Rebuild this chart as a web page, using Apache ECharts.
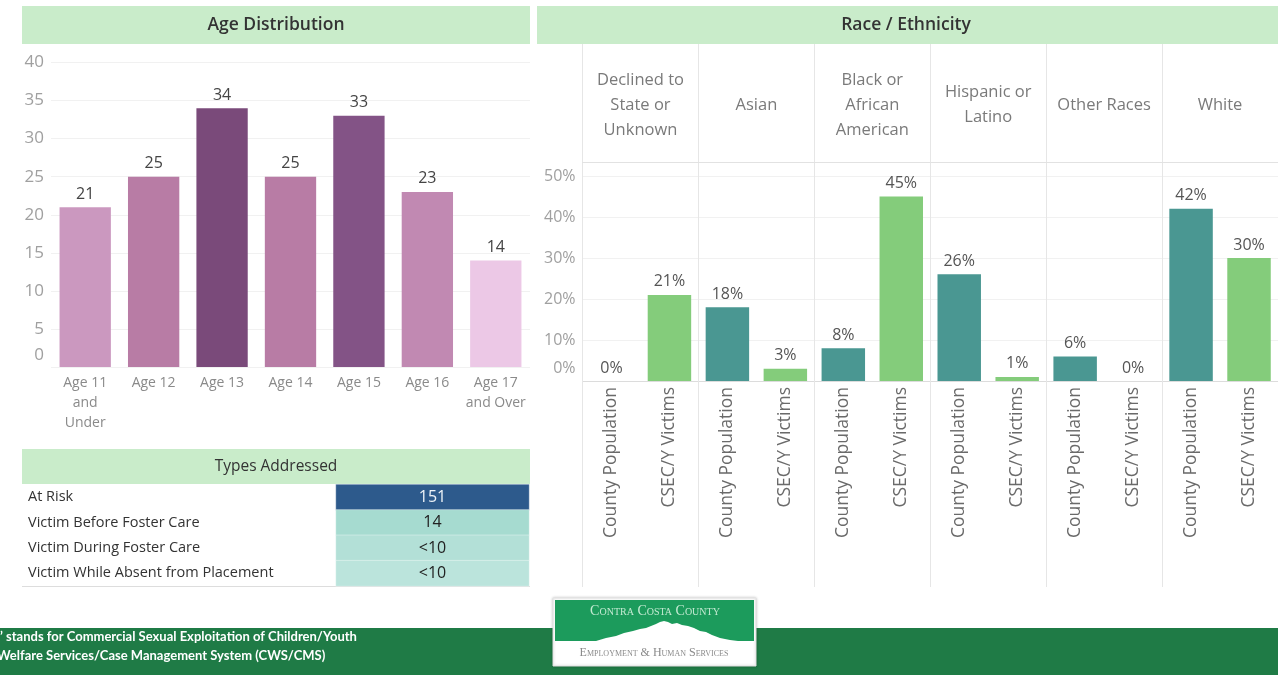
<!DOCTYPE html>
<html><head><meta charset="utf-8">
<script src="https://cdn.jsdelivr.net/npm/echarts@6/dist/echarts.min.js"></script>
<style>html,body{margin:0;padding:0;background:#fff;}#c{width:1278px;height:675px;}</style>
</head><body><div id="c"></div>
<script>
// ---------- data ----------
const ageCategories = ['Age 11\nand\nUnder', 'Age 12', 'Age 13', 'Age 14', 'Age 15', 'Age 16', 'Age 17\nand Over'];
const ageCounts = [21, 25, 34, 25, 33, 23, 14];
const ageTickValues = [0, 5, 10, 15, 20, 25, 30, 35, 40];

const raceGroups = ['Declined to\nState or\nUnknown', 'Asian', 'Black or\nAfrican\nAmerican', 'Hispanic or\nLatino', 'Other Races', 'White'];
const raceMeasures = ['County Population', 'CSEC/Y Victims'];
const countyPopulationPct = [0, 18, 8, 26, 6, 42];
const csecVictimsPct = [21, 3, 45, 1, 0, 30];
const raceTickValues = [0, 10, 20, 30, 40, 50];

const typeRows = ['At Risk', 'Victim Before Foster Care', 'Victim During Foster Care', 'Victim While Absent from Placement'];
const typeValues = ['151', '14', '<10', '<10'];

const footerLines = ['\u2019 stands for Commercial Sexual Exploitation of Children/Youth', 'Welfare Services/Case Management System (CWS/CMS)'];

// ---------- styles ----------
const FONT = '"Open Sans", "Noto Sans", sans-serif';
const AGE_COLORS = ['#cb98bf', '#b87ca5', '#7a4a7a', '#b87ca5', '#835386', '#c189b2', '#ecc8e6'];
const TEAL = '#4a9792', GREEN = '#84cc7b';
const TYPE_COLORS = ['#2d5a8c', '#a6dbd0', '#b3e0d7', '#bbe4dc'];
const TYPE_TEXT = ['#eef3f8', '#222', '#222', '#222'];
const HEADER_GREEN = '#c9ecca';
const FOOT_FONT = 'bold 13px Lato, "Open Sans", sans-serif';

// ---------- build ----------
const raceCats = [], raceData = [];
raceGroups.forEach((g, i) => {
  raceCats.push(raceMeasures[0] + '|' + i, raceMeasures[1] + '|' + i);
  raceData.push({ value: countyPopulationPct[i], itemStyle: { color: TEAL } },
                { value: csecVictimsPct[i], itemStyle: { color: GREEN } });
});
const ageData = ageCounts.map((v, i) => ({ value: v, itemStyle: { color: AGE_COLORS[i] } }));
const typeData = typeRows.map((r, i) => ({
  value: [0, i, i],
  itemStyle: { color: TYPE_COLORS[i] },
  label: { color: TYPE_TEXT[i] }
}));

// fit footer text to the width it takes in the original
const mctx = document.createElement('canvas').getContext('2d');
mctx.font = FOOT_FONT;
const footScale = Math.min(1, 363 / mctx.measureText(footerLines[0]).width);

// the zero label sits a little above the baseline, as in the original
const zeroLift = (suffix) => v => v === 0 ? '{z|0' + suffix + '}' : v + suffix;

const chart = echarts.init(document.getElementById('c'), null, { renderer: 'canvas' });
chart.setOption({
  animation: false,
  textStyle: { fontFamily: FONT },
  grid: [
    { left: 51, right: 748, top: 62.5, bottom: 308 },
    { left: 582.5, right: -4, top: 162, bottom: 294 },
    { left: 336, right: 749, top: 484.5, bottom: 89 }
  ],
  xAxis: [
    { type: 'category', gridIndex: 0, data: ageCategories,
      axisLine: { show: false }, axisTick: { show: false },
      axisLabel: { interval: 0, fontSize: 14, lineHeight: 20, color: '#8a8a8a', margin: 6, fontFamily: FONT } },
    { type: 'category', gridIndex: 1, data: raceCats, position: 'bottom',
      axisLine: { show: true, lineStyle: { color: '#dcdcdc' } }, axisTick: { show: false },
      axisLabel: { interval: 0, rotate: 90, margin: 6, fontSize: 17.5, color: '#6a6a6a', fontFamily: FONT,
        formatter: v => v.split('|')[0] } },
    { type: 'category', gridIndex: 1, data: raceGroups, position: 'top',
      axisLine: { show: true, lineStyle: { color: '#e2e2e2' } },
      axisTick: { show: true, length: 118, interval: 0, lineStyle: { color: '#e6e6e6' } },
      splitLine: { show: true, interval: 0, lineStyle: { color: '#e6e6e6' } },
      axisLabel: { interval: 0, margin: 57, verticalAlign: 'middle', fontSize: 16.5, lineHeight: 25, color: '#7a7a7a', fontFamily: FONT } },
    { type: 'category', gridIndex: 1, data: raceGroups, position: 'bottom',
      axisLine: { show: false }, axisLabel: { show: false },
      axisTick: { show: true, length: 206, interval: 0, lineStyle: { color: '#e6e6e6' } } },
    { type: 'category', gridIndex: 2, data: ['Count'], show: false }
  ],
  yAxis: [
    { type: 'value', gridIndex: 0, min: ageTickValues[0], max: ageTickValues[ageTickValues.length - 1],
      interval: ageTickValues[1] - ageTickValues[0],
      axisLine: { show: false }, axisTick: { show: false },
      axisLabel: { fontSize: 17, color: '#a0a0a0', margin: 7, fontFamily: FONT,
        formatter: zeroLift(''), rich: { z: { fontSize: 17, color: '#a0a0a0', padding: [0, 0, 24, 0] } } },
      splitLine: { lineStyle: { color: '#f1f1f1' } } },
    { type: 'value', gridIndex: 1, min: raceTickValues[0], max: 53.4,
      interval: raceTickValues[1] - raceTickValues[0],
      axisLine: { show: false }, axisTick: { show: false },
      axisLabel: { fontSize: 16, color: '#a0a0a0', margin: 7, showMaxLabel: false, fontFamily: FONT,
        formatter: zeroLift('%'), rich: { z: { fontSize: 16, color: '#a0a0a0', padding: [0, 0, 26, 0] } } },
      splitLine: { lineStyle: { color: '#f1f1f1' } } },
    { type: 'category', gridIndex: 2, data: typeRows, inverse: true,
      axisLine: { show: false }, axisTick: { show: false },
      axisLabel: { align: 'left', margin: 308, fontSize: 14.5, color: '#333', fontFamily: FONT } }
  ],
  series: [
    { type: 'bar', xAxisIndex: 0, yAxisIndex: 0, data: ageData, barCategoryGap: '25%',
      label: { show: true, position: 'top', distance: 5, fontSize: 16, color: '#444', fontFamily: FONT } },
    { type: 'bar', xAxisIndex: 1, yAxisIndex: 1, data: raceData, barCategoryGap: '25%',
      label: { show: true, position: 'top', distance: 5, fontSize: 16, color: '#555', fontFamily: FONT,
        formatter: '{c}%' } },
    { type: 'heatmap', xAxisIndex: 4, yAxisIndex: 2, data: typeData,
      itemStyle: { borderColor: 'rgba(255,255,255,0.35)', borderWidth: 1 },
      label: { show: true, fontSize: 16, fontFamily: FONT, formatter: p => typeValues[p.dataIndex] } }
  ],
  graphic: [
    { type: 'rect', shape: { x: 22, y: 6, width: 508, height: 38 }, style: { fill: HEADER_GREEN }, z: -1 },
    { type: 'text', x: 276, y: 25, style: { text: 'Age Distribution', font: '600 17.5px ' + FONT, fill: '#333', align: 'center', verticalAlign: 'middle' } },
    { type: 'rect', shape: { x: 537, y: 6, width: 741, height: 38 }, style: { fill: HEADER_GREEN }, z: -1 },
    { type: 'text', x: 906, y: 25, style: { text: 'Race / Ethnicity', font: '600 17.5px ' + FONT, fill: '#333', align: 'center', verticalAlign: 'middle' } },
    { type: 'rect', shape: { x: 22, y: 449, width: 508, height: 35 }, style: { fill: HEADER_GREEN }, z: -1 },
    { type: 'text', x: 276, y: 467, style: { text: 'Types Addressed', font: '500 15.5px ' + FONT, fill: '#333', align: 'center', verticalAlign: 'middle' } },
    { type: 'line', shape: { x1: 22, y1: 586.5, x2: 530, y2: 586.5 }, style: { stroke: '#dddddd', lineWidth: 1 } },
    // footer
    { type: 'rect', shape: { x: 0, y: 628, width: 1278, height: 47 }, style: { fill: '#1f7b46' }, z: 1 },
    { type: 'text', x: 0, y: 637, z: 2, scaleX: footScale, style: { text: footerLines[0], font: FOOT_FONT, fill: '#fff', verticalAlign: 'middle' } },
    { type: 'text', x: -3, y: 656, z: 2, scaleX: footScale, style: { text: footerLines[1], font: FOOT_FONT, fill: '#fff', verticalAlign: 'middle' } },
    // logo
    { type: 'rect', shape: { x: 553, y: 598, width: 203, height: 68 }, z: 3,
      style: { fill: '#fff', stroke: '#e2e2e2', lineWidth: 1, shadowBlur: 3, shadowColor: 'rgba(0,0,0,0.2)' } },
    { type: 'rect', shape: { x: 555, y: 600, width: 199, height: 41 }, z: 4, style: { fill: '#1c9b5c' } },
    { type: 'polygon', z: 5, shape: { points: [[596, 641], [606, 638], [616, 636], [624, 633], [633, 631], [640, 629], [646, 628], [651, 626], [656, 624], [660, 622], [664, 621], [668, 622], [672, 624], [677, 623], [682, 625], [688, 626], [694, 628], [700, 631], [706, 632], [712, 635], [720, 638], [730, 640], [738, 641]] },
      style: { fill: '#ffffff' } },
    { type: 'text', x: 655, y: 611, z: 6, style: { text: 'Contra Costa County', font: 'small-caps normal 14px "Liberation Serif", serif', fill: '#c4ead2', align: 'center', verticalAlign: 'middle' } },
    { type: 'text', x: 654, y: 653, z: 6, style: { text: 'Employment & Human Services', font: 'small-caps normal 12px "Liberation Serif", serif', fill: '#8a8a8a', align: 'center', verticalAlign: 'middle' } }
  ]
});
</script>
</body></html>
